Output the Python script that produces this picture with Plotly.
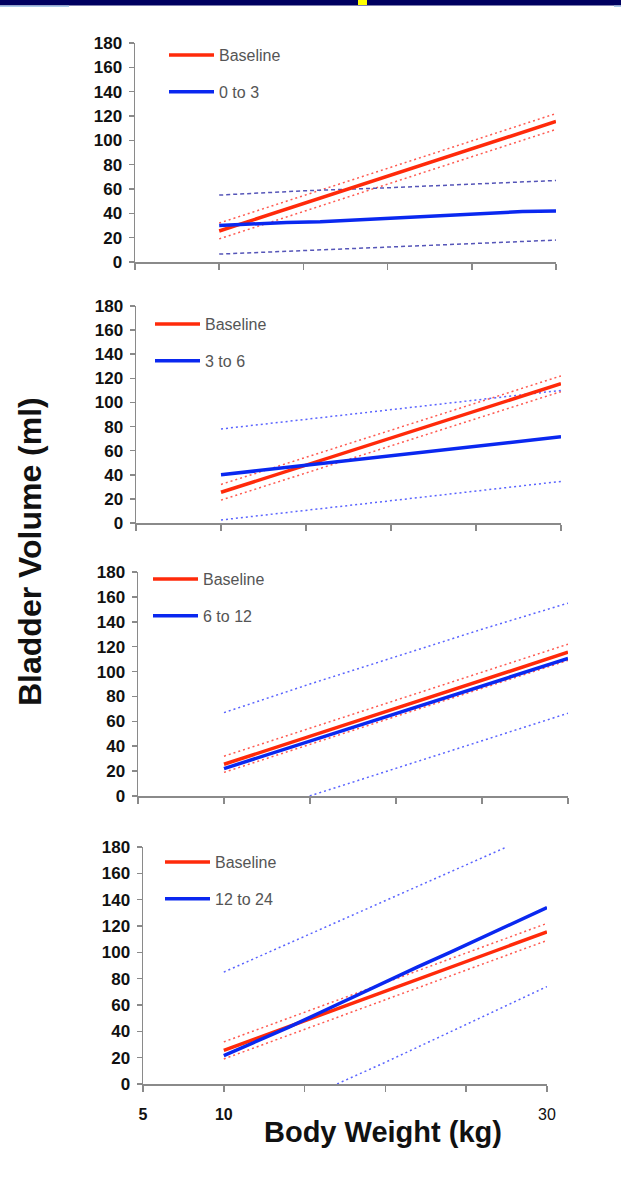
import plotly.graph_objects as go

W, H = 621, 1183

# ---------------- data ----------------
weight = [10, 15, 20, 25, 30]
baseline = [25.5, 48, 70.5, 93, 115.5]
baseline_hi = [32, 54.5, 77, 99.5, 122]
baseline_lo = [19, 41.5, 64, 86.5, 109]

# panel 1: 0 to 3
w_03 = [10, 12, 14, 16, 18, 20, 22, 24, 26, 28, 30]
v_03 = [30, 31.5, 32.5, 33, 34.5, 35.5, 37, 38.5, 40, 41.5, 42]
w_03ci = [10, 15, 20, 25, 30]
hi_03 = [55, 58.5, 61, 64, 67]
lo_03 = [6.5, 9.5, 12.5, 15, 18]

# panel 2: 3 to 6
w_36 = [10, 12, 14, 16, 18, 20, 22, 24, 26, 28, 30]
v_36 = [40, 43.2, 46.3, 49.4, 52.4, 55.5, 58.6, 61.8, 65, 68.3, 71.5]
w_36ci = [10, 15, 20, 25, 30]
hi_36 = [78, 86, 93.5, 102, 110]
lo_36 = [2.5, 10.5, 18.5, 27, 34.5]

# panel 3: 6 to 12
w_612 = [10, 15, 20, 25, 30]
v_612 = [22, 44, 66.5, 88.5, 110.5]
hi_612 = [67, 90, 112, 134, 155]
lo_612 = [-22, 0, 22.5, 44.5, 66.5]

# panel 4: 12 to 24
w_1224 = [10, 12, 14, 16, 18, 20, 22, 24, 26, 28, 30]
v_1224 = [21.5, 32, 43, 54.5, 66, 78, 89, 100, 111.5, 122.5, 134]
w_1224hi = [10, 15, 20, 25, 27.5]
hi_1224 = [85, 112, 139, 166, 180]
w_1224lo = [10, 17, 20, 25, 30]
lo_1224 = [-40, 0, 16.5, 45, 74]

panel_names = ["0 to 3", "3 to 6", "6 to 12", "12 to 24"]
y_ticks = [0, 20, 40, 60, 80, 100, 120, 140, 160, 180]
x_ticks = [5, 10, 15, 20, 25, 30]
x_ticktext = ["<b>5</b>", "<b>10</b>", "", "", "", "30"]

RED = "#ff2a0a"
BLUE = "#0a28f0"
RED_DOT = "#ff5a50"
BLUE_DOT = "#5a64ff"

panels = [
    dict(w=w_03, v=v_03, whi=w_03ci, hi=hi_03, wlo=w_03ci, lo=lo_03, bdash="4px,3px", bdot="#5555b8"),
    dict(w=w_36, v=v_36, whi=w_36ci, hi=hi_36, wlo=w_36ci, lo=lo_36, bdash="2px,3px", bdot=BLUE_DOT),
    dict(w=w_612, v=v_612, whi=w_612, hi=hi_612, wlo=w_612, lo=lo_612, bdash="2px,3px", bdot=BLUE_DOT),
    dict(w=w_1224, v=v_1224, whi=w_1224hi, hi=hi_1224, wlo=w_1224lo, lo=lo_1224, bdash="2px,3px", bdot=BLUE_DOT),
]

# pixel layout of each panel: (x_left, x_right, y_top, y_bottom)
boxes = [(135, 556, 43, 262), (136, 561, 306, 523), (138, 568, 572, 796), (143, 547, 847, 1084)]
legend_pos = [(164, 38), (150, 307), (148, 562), (160, 845)]

fig = go.Figure()

for i, p in enumerate(panels):
    n = i + 1
    xa = "x" if n == 1 else f"x{n}"
    ya = "y" if n == 1 else f"y{n}"
    lg = "legend" if n == 1 else f"legend{n}"
    for ys in (baseline_hi, baseline_lo):
        fig.add_trace(go.Scatter(x=weight, y=ys, mode="lines", xaxis=xa, yaxis=ya,
                                 line=dict(color=RED_DOT, width=1.5, dash="2px,3px"),
                                 showlegend=False, hoverinfo="skip"))
    fig.add_trace(go.Scatter(x=p["whi"], y=p["hi"], mode="lines", xaxis=xa, yaxis=ya,
                             line=dict(color=p["bdot"], width=1.5, dash=p["bdash"]),
                             showlegend=False, hoverinfo="skip"))
    fig.add_trace(go.Scatter(x=p["wlo"], y=p["lo"], mode="lines", xaxis=xa, yaxis=ya,
                             line=dict(color=p["bdot"], width=1.5, dash=p["bdash"]),
                             showlegend=False, hoverinfo="skip"))
    fig.add_trace(go.Scatter(x=weight, y=baseline, mode="lines", name="Baseline",
                             xaxis=xa, yaxis=ya, legend=lg, legendgroup=f"b{n}",
                             line=dict(color=RED, width=3.5)))
    fig.add_trace(go.Scatter(x=p["w"], y=p["v"], mode="lines", name=panel_names[i],
                             xaxis=xa, yaxis=ya, legend=lg, legendgroup=f"g{n}",
                             line=dict(color=BLUE, width=3.5)))

layout = dict(
    width=W, height=H,
    margin=dict(l=0, r=0, t=0, b=0, pad=0, autoexpand=False),
    paper_bgcolor="white", plot_bgcolor="white",
    font=dict(family="Liberation Sans, Arial, sans-serif", color="#111"),
)

axis_line = "#8a8a8a"
for i, (xl, xr, yt, yb) in enumerate(boxes):
    n = i + 1
    xk = "xaxis" if n == 1 else f"xaxis{n}"
    yk = "yaxis" if n == 1 else f"yaxis{n}"
    layout[xk] = dict(
        domain=[xl / W, xr / W], range=[5, 30], anchor="y" if n == 1 else f"y{n}",
        tickmode="array", tickvals=x_ticks, ticktext=x_ticktext, automargin=False,
        showticklabels=(n == 4), ticks="outside", ticklen=6, tickcolor=axis_line, tickwidth=1.5,
        showline=True, linecolor=axis_line, linewidth=1.5, showgrid=False, zeroline=False,
        tickfont=dict(size=16, color="#111"), ticklabelstandoff=9, fixedrange=True,
    )
    layout[yk] = dict(
        domain=[1 - yb / H, 1 - yt / H], range=[0, 180], anchor="x" if n == 1 else f"x{n}",
        tickmode="array", tickvals=y_ticks, automargin=False,
        ticks="outside", ticklen=5, tickcolor=axis_line, tickwidth=1.5,
        showline=True, linecolor=axis_line, linewidth=1.5, showgrid=False, zeroline=False,
        tickfont=dict(size=17, color="#111", weight="bold"), ticklabelstandoff=3, fixedrange=True,
    )
    lx, ly = legend_pos[i]
    lk = "legend" if n == 1 else f"legend{n}"
    layout[lk] = dict(x=lx / W, y=1 - ly / H, xanchor="left", yanchor="top",
                      bgcolor="rgba(0,0,0,0)", borderwidth=0, tracegroupgap=13,
                      itemwidth=45,
                      font=dict(size=16, color="#555"), traceorder="grouped")

fig.update_layout(**layout)

fig.add_annotation(text="<b>Bladder Volume (ml)</b>", xref="paper", yref="paper",
                   x=30 / W, y=1 - 552 / H, textangle=-90, showarrow=False,
                   font=dict(size=32, color="#111"), xanchor="center", yanchor="middle")
fig.add_annotation(text="<b>Body Weight (kg)</b>", xref="paper", yref="paper",
                   x=383 / W, y=1 - 1132 / H, showarrow=False,
                   font=dict(size=29, color="#111"), xanchor="center", yanchor="middle")

# slide header strip
fig.add_shape(type="rect", xref="paper", yref="paper", x0=0, x1=1, y0=1 - 5.5 / H, y1=1,
              fillcolor="#000060", line_width=0)
fig.add_shape(type="rect", xref="paper", yref="paper", x0=0, x1=69 / W, y0=1 - 7 / H, y1=1 - 5.5 / H,
              fillcolor="#a9c9e9", line_width=0)
fig.add_shape(type="rect", xref="paper", yref="paper", x0=614 / W, x1=1, y0=1 - 7 / H, y1=1 - 5.5 / H,
              fillcolor="#a9c9e9", line_width=0)
fig.add_shape(type="rect", xref="paper", yref="paper", x0=358 / W, x1=367 / W, y0=1 - 5 / H, y1=1,
              fillcolor="#ffff00", line_width=0)

fig.write_html(
    "out.html",
    config={"displayModeBar": False, "staticPlot": True},
    post_script=(
        "document.documentElement.style.margin='0';"
        "document.documentElement.style.padding='0';"
        "document.documentElement.style.overflow='hidden';"
        "document.body.style.margin='0';document.body.style.padding='0';"
        "document.body.style.overflow='hidden';"
        "var d=document.getElementById('{plot_id}');"
        "d.style.position='fixed';d.style.left='0px';d.style.top='0px';"
    ),
)
